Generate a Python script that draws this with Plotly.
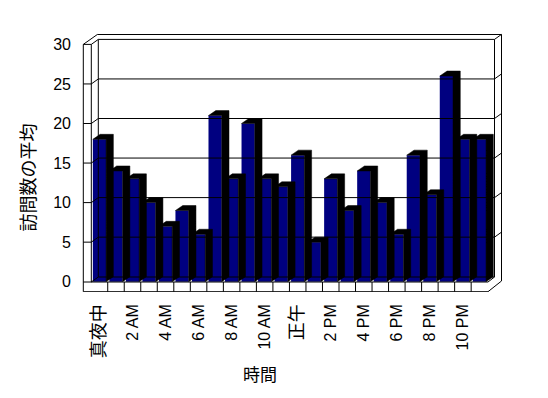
import plotly.graph_objects as go

# ---------------- data ----------------
hours = ["真夜中", "1 AM", "2 AM", "3 AM", "4 AM", "5 AM", "6 AM", "7 AM", "8 AM",
         "9 AM", "10 AM", "11 AM", "正午", "1 PM", "2 PM", "3 PM", "4 PM", "5 PM",
         "6 PM", "7 PM", "8 PM", "9 PM", "10 PM", "11 PM"]
visits = [18, 14, 13, 10, 7, 9, 6, 21, 13, 20, 13, 12, 16, 5, 13, 9, 14, 10, 6,
          16, 11, 26, 18, 18]
y_ticks = [0, 5, 10, 15, 20, 25, 30]
x_title = "時間"
y_title = "訪問数の平均"

# ---------------- geometry (page pixel frame of the pseudo-3D box) ----------------
W, H = 548, 398
OFF = 8                                 # default body margin of the page
PL, PR, PT, PB = 80, 510, 30, 292      # plot area in page px
U = 16.52                               # px per category
X0 = 91.2                               # px of category edge c = -0.5
V = 7.91                                # px per value unit
Y0 = 281.7                              # px of value 0 (front)
DXP, DYP = 7.3, 5.0                     # depth offset in px


def X(p):
    return (p - X0) / U - 0.5


def Y(p):
    return (Y0 - p) / V


def PY(v):
    return Y0 - v * V


dx = DXP / U
dy = DYP / V
bw = 0.8
n = len(visits)

FONT = "Liberation Sans, Noto Sans CJK JP, sans-serif"


def tick_text(s):
    # CJK labels are drawn slightly larger in the original
    if s.isascii():
        return s
    return "<span style='font-size:18px'>" + s + "</span>"


# frame lines (px), collected as polyline segments
segs = []
segs.append([(83.3, 291.7), (83.3, PY(30)), (97.3, 34.5), (501.5, 34.5),
             (501.5, 281.0), (488.0, 291.7), (83.3, 291.7)])
segs.append([(91.3, 282.0), (91.3, PY(30)), (98.3, PY(30) - DYP)])
segs.append([(83.3, PY(30)), (91.3, PY(30))])
segs.append([(98.3, 277.0), (98.3, PY(30) - DYP), (494.5, PY(30) - DYP),
             (494.5, 277.0)])
segs.append([(494.5, PY(30) - DYP), (501.5, PY(30) - 2 * DYP)])
segs.append([(83.3, 282.0), (488.0, 282.0), (494.5, 277.0)])
segs.append([(91.3, 282.0), (98.3, 277.0), (494.5, 277.0)])
for k in range(1, n):
    px = X0 + k * U
    segs.append([(px, 282.0), (px, 291.7)])
for v in y_ticks[1:-1]:
    p = PY(v)
    segs.append([(83.3, p), (91.3, p), (98.3, p - DYP), (494.5, p - DYP),
                 (501.5, p - 2 * DYP)])

fx, fy = [], []
for s in segs:
    for (a, b) in s:
        fx.append(X(a))
        fy.append(Y(b))
    fx.append(None)
    fy.append(None)

# shadows (side + top faces) from data
sx, sy = [], []
for i, v in enumerate(visits):
    L, R = i - bw / 2, i + bw / 2
    pts = [(L, v), (L + dx, v + dy), (R + dx, v + dy), (R + dx, dy), (R, 0), (R, v), (L, v)]
    for a, b in pts:
        sx.append(a)
        sy.append(b)
    sx.append(None)
    sy.append(None)

fig = go.Figure()
fig.add_trace(go.Scatter(x=fx, y=fy, mode="lines", line=dict(color="black", width=1),
                         hoverinfo="skip", showlegend=False))
fig.add_trace(go.Scatter(x=sx, y=sy, mode="lines", fill="toself", fillcolor="black",
                         line=dict(color="black", width=0.5), hoverinfo="skip",
                         showlegend=False))
fig.add_trace(go.Bar(x=list(range(n)), y=visits, width=bw, marker=dict(color="#000080",
                     line=dict(width=0)), showlegend=False, hovertext=hours))

fig.update_layout(
    width=W - OFF, height=H - OFF,
    margin=dict(l=PL - OFF, r=W - PR, t=PT - OFF, b=H - PB, pad=0),
    paper_bgcolor="white", plot_bgcolor="white",
    barmode="overlay",
    showlegend=False,
    font=dict(family=FONT, color="black"),
    xaxis=dict(range=[X(PL), X(PR)], tickmode="array",
               tickvals=list(range(0, n, 2)),
               ticktext=[tick_text(s) for s in hours[::2]],
               tickangle=-90, showgrid=False, zeroline=False, showline=False,
               ticks="", ticklabelstandoff=8, tickfont=dict(size=16, family=FONT),
               fixedrange=True, automargin=False),
    yaxis=dict(range=[Y(PB), Y(PT)], tickmode="array", tickvals=y_ticks,
               showgrid=False, zeroline=False, showline=False, ticks="",
               ticklabelstandoff=8, tickfont=dict(size=16, family=FONT),
               fixedrange=True, automargin=False),
    annotations=[
        dict(text=y_title, textangle=-90, showarrow=False, xref="paper", yref="paper",
             x=(28.5 - PL) / (PR - PL), y=(PB - 178) / (PB - PT),
             xanchor="center", yanchor="middle", font=dict(size=18, family=FONT)),
        dict(text=x_title, showarrow=False, xref="paper", yref="paper",
             x=(260 - PL) / (PR - PL), y=(PB - 375) / (PB - PT),
             xanchor="center", yanchor="middle", font=dict(size=17, family=FONT)),
    ],
)

fig.write_html("out.html")
